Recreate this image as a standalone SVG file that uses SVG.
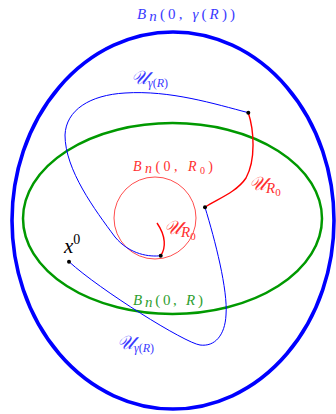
<svg xmlns="http://www.w3.org/2000/svg" width="336" height="414" viewBox="0 0 336 414">
<style>
.lbl{font-family:"Liberation Serif","DejaVu Serif",serif;}
.it{font-style:italic;}
.bl{fill:#3a3aff;}
.rd{fill:#ff3030;}
.gr{fill:#2fa02f;}
.dot{fill:#000;}
.sub{font-size:10px;}
</style>
<rect width="336" height="414" fill="#fff"/>
<g id="ball-gamma">
<ellipse cx="173" cy="220.5" rx="161" ry="188.5" fill="none" stroke="#0000ff" stroke-width="3.6"/>
<text class="lbl bl" x="137" y="19" font-size="15" textLength="98" lengthAdjust="spacing"><tspan class="it">B</tspan><tspan class="it" dy="2">n</tspan><tspan dy="-2">(0, </tspan><tspan class="it">γ</tspan>(<tspan class="it">R</tspan>))</text>
</g>
<g id="ball-R">
<ellipse cx="172.5" cy="218.5" rx="149.5" ry="95.5" fill="none" stroke="#009900" stroke-width="2.5"/>
<text class="lbl gr" x="133" y="305" font-size="15" textLength="70" lengthAdjust="spacing"><tspan class="it">B</tspan><tspan class="it" dy="2">n</tspan><tspan dy="-2">(0, </tspan><tspan class="it">R</tspan>)</text>
</g>
<g id="ball-R0">
<circle cx="155" cy="218" r="41" fill="none" stroke="#ff2020" stroke-width="0.8"/>
<text class="lbl rd" x="133" y="171" font-size="14" textLength="80" lengthAdjust="spacing"><tspan class="it">B</tspan><tspan class="it" dy="2">n</tspan><tspan dy="-2">(0, </tspan><tspan class="it">R</tspan><tspan class="sub" dy="3">0</tspan><tspan dy="-3">)</tspan></text>
</g>
<g id="connectors" fill="none">
<path d="M248.3,112.7 C215,104 170,90 125,93 C90,95 66,110 65,135 C65,170 95,210 115,237 C130,255 150,257 160.7,255.7" stroke="#0000ff" stroke-width="1"/>
<path d="M205,207.3 C215,240 228,290 226,315 C225,335 215,347 200,345 C185,343 100,290 69,261.7" stroke="#0000ff" stroke-width="1"/>
<path d="M248.3,112.7 C254,130 256,160 246,178 C236,193 215,200 205,207.3" stroke="#ff0000" stroke-width="1.4"/>
<path d="M160.7,255.7 C166,248 166,236 157,223" stroke="#ff0000" stroke-width="1.4"/>
</g>
<g id="point-a"><circle class="dot" cx="248.3" cy="112.7" r="2"/></g>
<g id="point-b"><circle class="dot" cx="205" cy="207.3" r="2"/></g>
<g id="point-c"><circle class="dot" cx="160.7" cy="255.7" r="2"/></g>
<g id="point-x0">
<circle class="dot" cx="69" cy="261.7" r="2"/>
<text class="lbl it" x="64" y="253" font-size="21">x<tspan font-size="14" dy="-9" font-style="normal">0</tspan></text>
</g>
<g id="labels-U">
<text class="lbl bl" x="131" y="84" font-size="19"><tspan class="it">𝒰</tspan><tspan font-size="12" dy="3"><tspan class="it">γ</tspan>(<tspan class="it">R</tspan>)</tspan></text>
<text class="lbl bl" x="117" y="349" font-size="19"><tspan class="it">𝒰</tspan><tspan font-size="12" dy="3"><tspan class="it">γ</tspan>(<tspan class="it">R</tspan>)</tspan></text>
<text class="lbl rd" x="249" y="190" font-size="19"><tspan class="it">𝒰</tspan><tspan font-size="15" dy="3" class="it">R</tspan><tspan font-size="11" dy="3">0</tspan></text>
<text class="lbl rd" x="164" y="234" font-size="19"><tspan class="it">𝒰</tspan><tspan font-size="15" dy="3" class="it">R</tspan><tspan font-size="11" dy="3">0</tspan></text>
</g>
</svg>
